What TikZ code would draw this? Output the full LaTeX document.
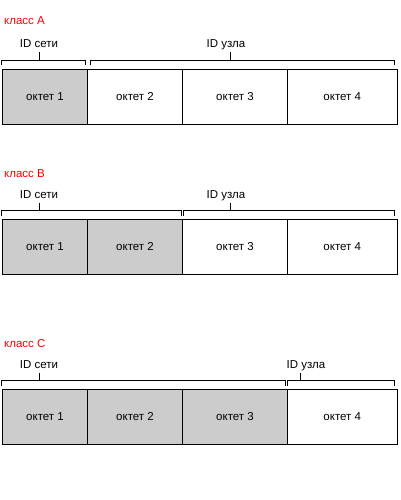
\documentclass[tikz,border=0pt]{standalone}
\usepackage{fontspec}
\setmainfont{Liberation Sans}
\definecolor{cellgray}{HTML}{CCCCCC}
\definecolor{classred}{HTML}{FF0000}
\newcommand{\idbracket}[4]{%
  \draw[brk] (#1,#3+5) -- (#1,#3) -- (#2,#3) -- (#2,#3+5);
  \draw[brk] (#4,#3) -- (#4,#3-8);}
\begin{document}
\begin{tikzpicture}[x=1pt,y=-1pt,
  every node/.style={font=\fontsize{11.5}{13}\selectfont},
  cellbox/.style={draw=black, line width=1pt, inner sep=0pt, outer sep=0pt,
    minimum height=55pt, anchor=north west},
  netcell/.style={cellbox, fill=cellgray},
  hostcell/.style={cellbox, fill=white},
  brk/.style={draw=black, line width=1pt},
  classlbl/.style={text=classred, anchor=base west, inner sep=0pt},
  idlbl/.style={anchor=base, inner sep=0pt}]
\useasboundingbox (0,0) rectangle (400,500);

% ---------- class A ----------
\node[classlbl] (lA) at (4,25) {класс A};
\node[idlbl] (nA) at (39,48) {ID сети};
\node[idlbl] (hA) at (226,48) {ID узла};
\idbracket{1.8}{85.5}{60.5}{39.5}
\idbracket{90.5}{394.8}{60.5}{230}
\node[netcell, minimum width=85pt] (a1) at (2.5,69.5) {};
\node[hostcell, minimum width=95pt] (a2) at (87.5,69.5) {};
\node[hostcell, minimum width=105pt] (a3) at (182.5,69.5) {};
\node[hostcell, minimum width=109.5pt] (a4) at (287.5,69.5) {};
\node at (a1.center) {октет 1};
\node at (a2.center) {октет 2};
\node at (a3.center) {октет 3};
\node at (a4.center) {октет 4};

% ---------- class B ----------
\node[classlbl] (lB) at (4,177.3) {класс B};
\node[idlbl] (nB) at (39,198.3) {ID сети};
\node[idlbl] (hB) at (226,198.3) {ID узла};
\idbracket{1.8}{181.8}{210.5}{39.5}
\idbracket{183.5}{394.8}{210.5}{230}
\node[netcell, minimum width=85pt] (b1) at (2.5,219.5) {};
\node[netcell, minimum width=95pt] (b2) at (87.5,219.5) {};
\node[hostcell, minimum width=105pt] (b3) at (182.5,219.5) {};
\node[hostcell, minimum width=109.5pt] (b4) at (287.5,219.5) {};
\node at (b1.center) {октет 1};
\node at (b2.center) {октет 2};
\node at (b3.center) {октет 3};
\node at (b4.center) {октет 4};

% ---------- class C ----------
\node[classlbl] (lC) at (4,347.3) {класс C};
\node[idlbl] (nC) at (39,368.3) {ID сети};
\node[idlbl] (hC) at (306,368.3) {ID узла};
\idbracket{1.8}{285.5}{380.5}{39.5}
\idbracket{287.5}{394.8}{380.5}{300.8}
\node[netcell, minimum width=85pt] (c1) at (2.5,389.5) {};
\node[netcell, minimum width=95pt] (c2) at (87.5,389.5) {};
\node[netcell, minimum width=105pt] (c3) at (182.5,389.5) {};
\node[hostcell, minimum width=109.5pt] (c4) at (287.5,389.5) {};
\node at (c1.center) {октет 1};
\node at (c2.center) {октет 2};
\node at (c3.center) {октет 3};
\node at (c4.center) {октет 4};
\end{tikzpicture}
\end{document}
